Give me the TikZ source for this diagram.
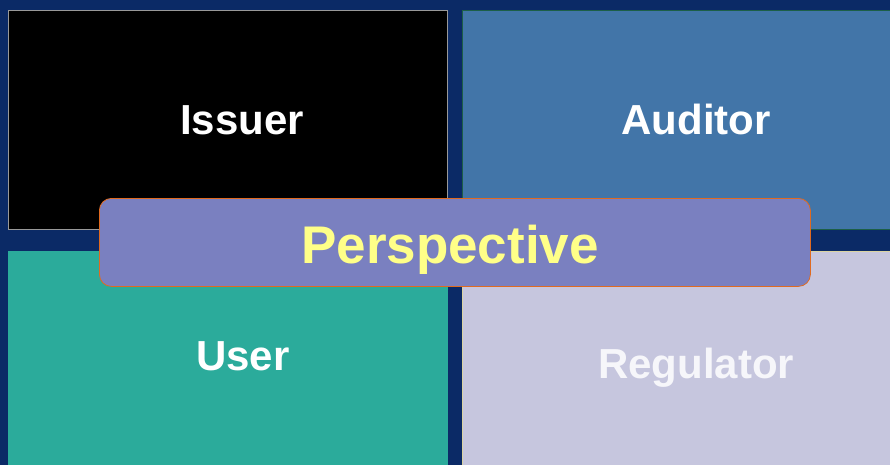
\documentclass[tikz,border=0pt]{standalone}
\usepackage{fontspec}
\setmainfont{Liberation Sans}
\definecolor{bgblue}{HTML}{0B2A66}
\definecolor{auditorblue}{HTML}{4275A8}
\definecolor{userteal}{HTML}{2BAB9B}
\definecolor{reglilac}{HTML}{C6C6DE}
\definecolor{perspfill}{HTML}{7A80C0}
\definecolor{perspedge}{HTML}{E06A20}
\definecolor{perspyellow}{HTML}{FFFF88}
\definecolor{regtext}{HTML}{F6F6FA}
\begin{document}
\begin{tikzpicture}[x=1pt,y=-1pt,
  panel/.style={draw, line width=0.8pt, inner sep=0pt, anchor=north west},
  paneltext/.style={font=\fontsize{42}{42}\selectfont\bfseries, text=white, anchor=base, inner sep=0pt},
  bigtext/.style={font=\fontsize{53}{53}\selectfont\bfseries, text=perspyellow, anchor=base, inner sep=0pt}]
\fill[bgblue] (0,0) rectangle (890,465);
\useasboundingbox (0,0) rectangle (890,465);
\node[panel, fill=black, draw=gray!80, minimum width=439pt, minimum height=219pt] (issuer) at (8,10) {};
\node[panel, fill=auditorblue, draw=auditorblue!70!green!60!black, minimum width=430pt, minimum height=219pt] (auditor) at (462,10) {};
\node[panel, fill=userteal, draw=userteal, minimum width=439pt, minimum height=216pt] (user) at (8,251) {};
\node[panel, fill=reglilac, draw=yellow!30!reglilac, minimum width=430pt, minimum height=216pt] (regulator) at (462,251) {};
\node[paneltext] (issuerlbl) at (242,135) {Issuer};
\node[paneltext] (auditorlbl) at (696,135) {Auditor};
\node[paneltext] (userlbl) at (243,370) {User};
\node[paneltext, text=regtext] (reglbl) at (696,378) {Regulator};
\node[panel, fill=perspfill, draw=perspedge, rounded corners=12pt, minimum width=711pt, minimum height=88pt] (persp) at (99,198) {};
\node[bigtext] (persplbl) at (450,263) {Perspective};
\end{tikzpicture}
\end{document}
